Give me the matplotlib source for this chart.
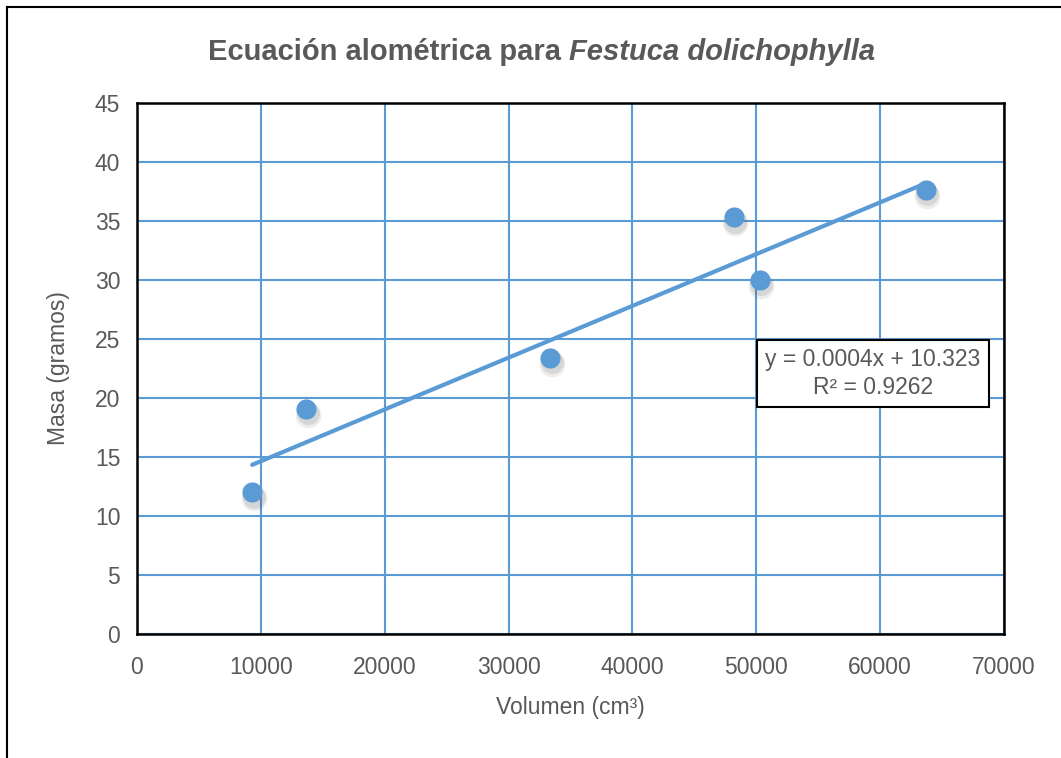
import numpy as np
import matplotlib
matplotlib.use("Agg")
import matplotlib.pyplot as plt
from matplotlib.lines import Line2D

# datos
volumen = [9300, 13650, 33350, 48200, 50300, 63700]
masa = [12.0, 19.1, 23.4, 35.3, 30.0, 37.6]
x_ticks = [0, 10000, 20000, 30000, 40000, 50000, 60000, 70000]
y_ticks = [0, 5, 10, 15, 20, 25, 30, 35, 40, 45]
ecuacion = "y = 0.0004x + 10.323\nR² = 0.9262"

AZUL = "#5B9BD5"
GRIS = "#595959"
plt.rcParams["font.family"] = ["Liberation Sans", "DejaVu Sans"]

fig = plt.figure(figsize=(10.61, 7.58), dpi=100)
ax = fig.add_axes([0.1291, 0.1636, 0.8172, 0.7005])

ax.set_xlim(0, 70000)
ax.set_ylim(0, 45)
ax.set_xticks(x_ticks)
ax.set_yticks(y_ticks)
ax.grid(True, color=AZUL, linewidth=1.5)
ax.set_axisbelow(True)
for s in ax.spines.values():
    s.set_color("black")
    s.set_linewidth(1.8)
ax.tick_params(length=0, labelsize=16.5, colors=GRIS)
ax.tick_params(axis="x", pad=16)
ax.tick_params(axis="y", pad=12)

# línea de tendencia
m, b = np.polyfit(volumen, masa, 1)
xs = np.array([min(volumen), max(volumen)])
ax.plot(xs, m * xs + b, color=AZUL, linewidth=3, zorder=3, solid_capstyle="round")

# puntos con sombra suave
for off, a, ms in [(0.5, 0.10, 18.5), (0.35, 0.15, 16.5)]:
    ax.plot(np.array(volumen) + 120, np.array(masa) - off, "o", color="#555555",
            alpha=a, markersize=ms, markeredgewidth=0, zorder=3)
ax.plot(volumen, masa, "o", color=AZUL, markersize=14.5, markeredgewidth=0, zorder=4)

ax.text(0.849, 0.4906, ecuacion, transform=ax.transAxes, ha="center", va="center",
        fontsize=16.5, color=GRIS, linespacing=1.25, zorder=5,
        bbox=dict(boxstyle="square,pad=0.35", facecolor="white", edgecolor="black", linewidth=1.5))

ax.set_xlabel("Volumen (cm³)", fontsize=16.5, color=GRIS, labelpad=12)
ax.set_ylabel("Masa (gramos)", fontsize=16.5, color=GRIS, labelpad=18)

fig.text(0.5365, 0.931, "Ecuación alométrica para ", fontsize=21, fontweight="bold",
         color=GRIS, ha="right", va="center")
fig.text(0.5365, 0.931, "Festuca dolichophylla", fontsize=21, fontweight="bold",
         style="italic", color=GRIS, ha="left", va="center")

# marco exterior (solo izquierda y arriba visibles)
fig.add_artist(Line2D([0.0066, 0.0066], [0, 0.9908], color="black", linewidth=1.5,
                      transform=fig.transFigure))
fig.add_artist(Line2D([0.0066, 1.0], [0.9908, 0.9908], color="black", linewidth=1.5,
                      transform=fig.transFigure))

fig.savefig("out.png", dpi=100)
